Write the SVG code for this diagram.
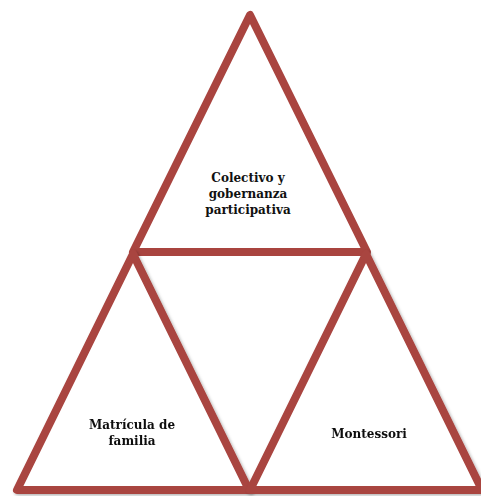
<svg xmlns="http://www.w3.org/2000/svg" width="481" height="496" viewBox="0 0 481 496">
<style>
.tri{fill:#ffffff;stroke:#A9443F;stroke-width:8;stroke-linejoin:round}
.lbl{font-family:"DejaVu Serif","Liberation Serif",serif;font-weight:bold;font-size:12px;fill:#111;text-anchor:middle}
</style>
<defs>
<filter id="sh" x="-10%" y="-10%" width="120%" height="120%">
<feDropShadow dx="1.5" dy="1.5" stdDeviation="1.5" flood-color="#000" flood-opacity="0.3"/>
</filter>
</defs>
<rect width="481" height="496" fill="#ffffff"/>
<g id="top">
<polygon class="tri" points="250,15 133,252 367,252"/>
<text class="lbl" x="248" y="182">Colectivo y</text>
<text class="lbl" x="248" y="198">gobernanza</text>
<text class="lbl" x="248" y="214">participativa</text>
</g>
<g id="left" filter="url(#sh)">
<polygon class="tri" points="133,254 17,490 249,490"/>
<text class="lbl" x="132" y="429">Matrícula de</text>
<text class="lbl" x="132" y="445">familia</text>
</g>
<g id="right" filter="url(#sh)">
<polygon class="tri" points="366,254 250,490 482,490"/>
<text class="lbl" x="369" y="438">Montessori</text>
</g>
</svg>
